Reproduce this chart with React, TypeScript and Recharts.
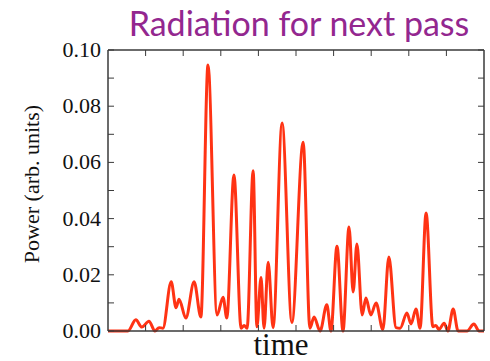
import { LineChart, Line, XAxis, YAxis } from 'recharts';

// time positions (arb.) of peaks / troughs, 0..100
const times = [
  0, 5.3, 7.4, 9.0, 10.9, 12.5, 13.6, 14.6, 16.8, 18.1, 18.9, 20.7, 22.9, 24.7,
  26.6, 29.0, 30.6, 31.6, 33.5, 35.4, 36.2, 37.0, 38.6, 39.6, 40.7, 41.5, 42.6,
  43.9, 46.3, 48.9, 51.9, 53.7, 54.8, 56.4, 58.2, 59.3, 60.9, 62.5, 64.1, 65.2,
  66.2, 67.6, 68.6, 69.9, 71.3, 73.1, 74.7, 76.6, 77.7, 79.5, 80.6, 81.9, 83.0,
  84.6, 86.4, 87.2, 88.0, 89.4, 90.4, 91.8, 93.1, 95.5, 97.3, 98.7, 100,
];

const power = [
  0, 0, 0.004, 0.0014, 0.0035, 0.0, 0.0012, 0.001, 0.0175, 0.0083, 0.0113,
  0.0046, 0.0175, 0.005, 0.0947, 0.0057, 0.012, 0.0046, 0.0555, 0.001, 0.002,
  0.001, 0.057, 0.0015, 0.019, 0.001, 0.0245, 0.0012, 0.074, 0.003, 0.0672,
  0.001, 0.005, 0.0, 0.0093, 0.0, 0.0302, 0.0, 0.037, 0.0139, 0.031, 0.0057,
  0.0117, 0.0057, 0.01, 0.0005, 0.0263, 0.0012, 0.001, 0.0064, 0.0025, 0.0078,
  0.001, 0.042, 0.0015, 0.002, 0.0005, 0.0028, 0.0, 0.0078, 0.0, 0.0, 0.0025,
  0.0, 0,
];

const xTicks = [10, 20, 30, 40, 50, 60, 70, 80, 90];
const yTicks = [0, 0.01, 0.02, 0.03, 0.04, 0.05, 0.06, 0.07, 0.08, 0.09, 0.1];

const data = times.map((t, i) => ({ t, p: power[i] }));

const axisColor = '#3a3a3a';
const serif = "'Liberation Serif', 'Times New Roman', serif";

const LeftTick = (props: any) => {
  const { x, y, payload } = props;
  const major = Math.round(payload.value * 100) % 2 === 0;
  return (
    <g>
      <line x1={x} y1={y} x2={x + 6} y2={y} stroke={axisColor} strokeWidth={1} />
      {major && (
        <text className="ytick-label" x={x - 7} y={y + 7} textAnchor="end"
          fill="#111" stroke="none">
          {payload.value.toFixed(2)}
        </text>
      )}
    </g>
  );
};

const RightTick = (props: any) => {
  const { x, y } = props;
  return <line x1={x} y1={y} x2={x - 6} y2={y} stroke={axisColor} strokeWidth={1} />;
};

const TopTick = (props: any) => {
  const { x, y } = props;
  return <line x1={x} y1={y} x2={x} y2={y + 6} stroke={axisColor} strokeWidth={1} />;
};

const BottomTick = (props: any) => {
  const { x, y } = props;
  return <line x1={x} y1={y} x2={x} y2={y - 6} stroke={axisColor} strokeWidth={1} />;
};

export default function App() {
  return (
    <div style={{ position: 'absolute', left: 0, top: 0, width: 490, height: 361, background: '#fff', overflow: 'hidden' }}>
      <style>{`
        .ytick-label { font-family: 'Liberation Serif', 'Times New Roman', serif !important; font-size: 22px !important; }
      `}</style>

      {/* title */}
      <div style={{
        position: 'absolute', left: 0, width: 490, top: 3, paddingLeft: 108,
        boxSizing: 'border-box', textAlign: 'center',
        fontFamily: 'Lato, "Open Sans", sans-serif', fontSize: 34, lineHeight: '40px',
        color: '#93278f',
      }}>
        Radiation for next pass
      </div>

      <LineChart width={490} height={361} data={data}
        margin={{ top: 0, right: 0, bottom: 0, left: 0 }}>
        <XAxis xAxisId="b" dataKey="t" type="number" domain={[0, 100]} ticks={xTicks}
          orientation="bottom" height={30} stroke={axisColor} strokeWidth={1.5}
          tickLine={false} tickSize={0} tickMargin={0} tick={<BottomTick />} />
        <XAxis xAxisId="top" dataKey="t" type="number" domain={[0, 100]} ticks={xTicks}
          orientation="top" height={50} stroke={axisColor} strokeWidth={1.5}
          tickLine={false} tickSize={0} tickMargin={0} tick={<TopTick />} />
        <YAxis yAxisId="l" type="number" domain={[0, 0.1]} ticks={yTicks}
          orientation="left" width={108} stroke={axisColor} strokeWidth={1.5}
          tickLine={false} tickSize={0} tickMargin={0} tick={<LeftTick />} />
        <YAxis yAxisId="r" type="number" domain={[0, 0.1]} ticks={yTicks}
          orientation="right" width={6} stroke={axisColor} strokeWidth={1.5}
          tickLine={false} tickSize={0} tickMargin={0} tick={<RightTick />} />
        <Line xAxisId="top" yAxisId="r" dataKey="p" type="monotone" stroke="none"
          dot={false} activeDot={false} isAnimationActive={false} />
        <Line xAxisId="b" yAxisId="l" dataKey="p" type="monotone" stroke="#ff3314"
          strokeWidth={3} dot={false} activeDot={false} isAnimationActive={false} />
      </LineChart>

      {/* axis titles */}
      <div style={{
        position: 'absolute', left: 32, top: 184, transform: 'translate(-50%, -50%) rotate(-90deg)',
        whiteSpace: 'nowrap', fontFamily: serif, fontSize: 22, color: '#111',
      }}>
        Power (arb. units)
      </div>
      <div style={{
        position: 'absolute', left: 281, top: 331, transform: 'translateX(-50%)',
        whiteSpace: 'nowrap', fontFamily: serif, fontSize: 31, color: '#111', lineHeight: '28px',
      }}>
        time
      </div>
    </div>
  );
}
